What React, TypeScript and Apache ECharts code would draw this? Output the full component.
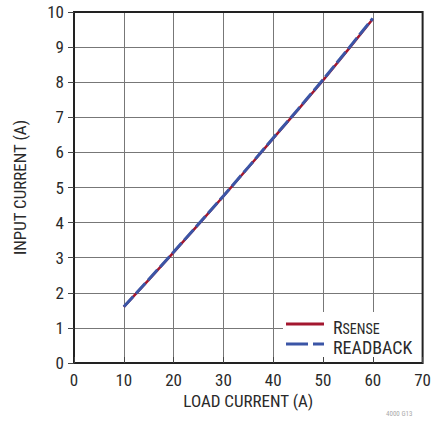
import React, { useEffect, useRef } from "react";
import * as echarts from "echarts";

const loadCurrent = [10, 15, 20, 25, 30, 35, 40, 45, 50, 55, 60];
const rsense = [1.6, 2.37, 3.15, 3.95, 4.75, 5.57, 6.4, 7.22, 8.05, 8.92, 9.8];
const readback = [1.6, 2.38, 3.16, 3.96, 4.76, 5.58, 6.41, 7.23, 8.07, 8.94, 9.82];
const xTicks = [0, 10, 20, 30, 40, 50, 60, 70];
const yTicks = [0, 1, 2, 3, 4, 5, 6, 7, 8, 9, 10];

const FONT = "'Liberation Sans Narrow', 'Roboto Condensed', 'Liberation Sans', sans-serif";
const RED = "#a3172f";
const BLUE = "#3b55a6";
const TXT = "#2a2a2a";

export default function App() {
  const ref = useRef<HTMLDivElement>(null);
  useEffect(() => {
    if (!ref.current) return;
    const chart = echarts.init(ref.current, null, { renderer: "svg" });
    const gridL = 74, gridT = 12, gridR = 9, gridB = 60;
    const tickOnly = {
      axisLine: { show: false },
      axisLabel: { show: false },
      splitLine: { show: false },
      axisTick: { show: true, inside: true, length: 6, lineStyle: { color: "#444", width: 1 } },
    };
    chart.setOption({
      animation: false,
      grid: { left: gridL, top: gridT, right: gridR, bottom: gridB, show: true, borderColor: "#222", borderWidth: 2, z: 3 },
      xAxis: [
        {
          type: "value", min: 0, max: 70, interval: 10, z: 0,
          name: "LOAD CURRENT (A)", nameLocation: "middle", nameGap: 29,
          nameTextStyle: { fontFamily: FONT, fontSize: 17, color: TXT },
          axisLine: { show: false },
          axisTick: { show: false },
          axisLabel: { fontFamily: FONT, fontSize: 17, color: TXT, margin: 8 },
          splitLine: { show: true, lineStyle: { color: "#777", width: 1 } },
        },
        { type: "value", min: 0, max: 70, interval: 10, position: "bottom", z: 5, ...tickOnly },
      ],
      yAxis: [
        {
          type: "value", min: 0, max: 10, interval: 1, z: 0,
          name: "INPUT CURRENT (A)", nameLocation: "middle", nameGap: 46,
          nameTextStyle: { fontFamily: FONT, fontSize: 17, color: TXT },
          axisLine: { show: false },
          axisTick: { show: false },
          axisLabel: { fontFamily: FONT, fontSize: 17, color: TXT, margin: 10 },
          splitLine: { show: true, lineStyle: { color: "#777", width: 1 } },
        },
        { type: "value", min: 0, max: 10, interval: 1, position: "right", z: 5, ...tickOnly },
      ],
      series: [
        {
          type: "line", name: "RSENSE", data: loadCurrent.map((x, i) => [x, rsense[i]]),
          showSymbol: false, z: 6, lineStyle: { color: RED, width: 2.5 },
        },
        {
          type: "line", name: "READBACK", data: loadCurrent.map((x, i) => [x, readback[i]]),
          showSymbol: false, z: 7, lineStyle: { color: BLUE, width: 3, type: [14, 4] },
        },
      ],
      graphic: [
        { type: "rect", z: 2, shape: { x: 283, y: 312, width: 141, height: 50 }, style: { fill: "#fff" } },
        { type: "line", z: 8, shape: { x1: 286, y1: 324, x2: 324, y2: 324 }, style: { stroke: RED, lineWidth: 3 } },
        { type: "line", z: 8, shape: { x1: 286, y1: 344, x2: 324, y2: 344 }, style: { stroke: BLUE, lineWidth: 3, lineDash: [22, 5] } },
        {
          type: "text", z: 8, x: 333, y: 336,
          style: {
            text: "{a|R}{b|SENSE}",
            verticalAlign: "bottom",
            rich: {
              a: { fontFamily: FONT, fontSize: 18, fill: TXT, lineHeight: 18 },
              b: { fontFamily: FONT, fontSize: 14, fill: TXT, lineHeight: 14, verticalAlign: "bottom" },
            },
          },
        },
        {
          type: "text", z: 8, x: 333, y: 347,
          style: { text: "READBACK", fontFamily: FONT, fontSize: 18, fill: TXT, verticalAlign: "middle", lineHeight: 18 },
        },
        {
          type: "text", z: 8, x: 386, y: 414,
          style: { text: "4000 G13", fontFamily: FONT, fontSize: 7, fill: "#aaa", verticalAlign: "middle" },
        },
      ],
    });
    return () => chart.dispose();
  }, []);
  return <div ref={ref} style={{ width: 434, height: 423, position: "absolute", left: 0, top: 0 }} />;
}
